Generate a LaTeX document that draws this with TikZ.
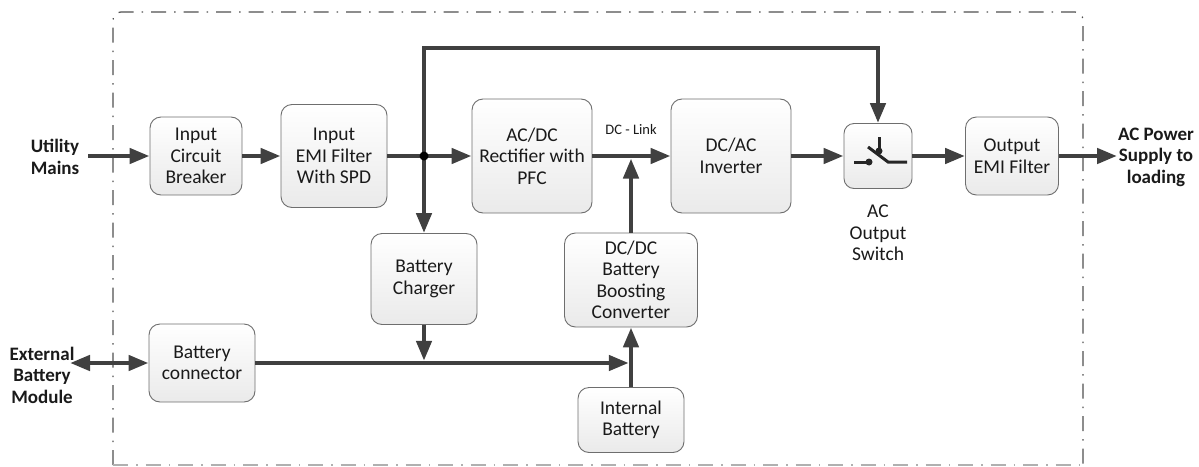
\documentclass[tikz,border=0pt]{standalone}
\usepackage{fontspec}
\setmainfont{Carlito}
\usetikzlibrary{arrows.meta}
\definecolor{ln}{HTML}{404040}
\definecolor{bd}{HTML}{6E6E6E}
\definecolor{bfill}{HTML}{EAEAEA}
\definecolor{fr}{HTML}{505050}
\definecolor{tx}{HTML}{1A1A1A}
\tikzset{
  blk/.style={draw=bd, line width=0.9pt, rounded corners=11pt, top color=white, bottom color=bfill,
    align=center, inner sep=1pt, text=tx, font=\fontsize{19.5}{21.5}\selectfont},
  lbl/.style={align=center, text=tx, font=\fontsize{19}{21.5}\selectfont\bfseries},
  conn/.style={draw=ln, line width=4.5pt, line join=miter, -{Triangle[length=20pt,width=15pt]}},
  conn2/.style={draw=ln, line width=4.5pt, {Triangle[length=20pt,width=15pt]}-{Triangle[length=20pt,width=15pt]}},
  frame/.style={draw=fr, line width=1.2pt, dash pattern=on 15pt off 8pt on 1.5pt off 8pt},
  swl/.style={draw=black!85, line width=3pt},
}
\begin{document}
\begin{tikzpicture}[x=1pt,y=-1pt]
\useasboundingbox (0,0) rectangle (1199,466);
% frame
\draw[frame, rounded corners=8pt] (113,465) -- (113,12) -- (1083,12) -- (1083,465);
\draw[frame, draw=fr!45] (113,465) -- (1083,465);
% blocks
\node[blk, minimum width=92pt, minimum height=78pt] (cb) at (196,156) {Input\\Circuit\\Breaker};
\node[blk, minimum width=106pt, minimum height=103pt] (emi) at (334,156) {Input\\EMI Filter\\With SPD};
\node[blk, minimum width=120pt, minimum height=114pt] (rect) at (532,156) {AC/DC\\Rectifier with\\PFC};
\node[blk, minimum width=120pt, minimum height=114pt] (inv) at (731,156) {DC/AC\\Inverter};
\node[blk, minimum width=68pt, minimum height=65pt, rounded corners=10pt] (sw) at (878,156) {};
\node[blk, minimum width=93pt, minimum height=78pt] (out) at (1012,156) {Output\\EMI Filter};
\node[blk, minimum width=106pt, minimum height=91pt] (chg) at (424,279) {Battery\\Charger};
\node[blk, minimum width=106pt, minimum height=78pt] (bcon) at (202,363) {Battery\\connector};
\node[blk, minimum width=133pt, minimum height=94pt] (boost) at (631,280) {DC/DC\\Battery\\Boosting\\Converter};
\node[blk, minimum width=106pt, minimum height=65pt] (ib) at (631,420) {Internal\\Battery};
% labels
\node[lbl] (um) at (55,157) {Utility\\Mains};
\node[lbl] (ebm) at (42,375) {External\\Battery\\Module};
\node[lbl] (acp) at (1156,157) {AC Power\\Supply to\\loading};
\node[text=tx, font=\fontsize{14.5}{16}\selectfont] (dcl) at (631,130) {DC - Link};
\node[align=center, text=tx, font=\fontsize{19.5}{21.5}\selectfont] (swlab) at (878,233) {AC\\Output\\Switch};
% coordinates
\coordinate (umS) at (88,156);
\coordinate (j) at (424,156);
\coordinate (tl) at (424,48);
\coordinate (dcb) at (631,158.5);
\coordinate (acS) at (1117,156);
\coordinate (ebS) at (70,363);
\coordinate (bus) at (628.8,363);
\coordinate (cj) at (424,360.8);
% connectors
\draw[conn] (umS) -- (cb.west);
\draw[conn] (cb) -- (emi);
\draw[conn] (emi) -- (rect);
\draw[conn] (j) -- (chg);
\draw[conn] (j) -- (tl) -| (sw.north);
\draw[conn] (rect) -- (inv);
\draw[conn] (boost) -- (dcb);
\draw[conn] (inv) -- (sw);
\draw[conn] (sw) -- (out);
\draw[conn] (out) -- (acS);
\draw[conn2] (ebS) -- (bcon.west);
\draw[conn] (bcon.east) -- (bus);
\draw[conn] (chg) -- (cj);
\draw[conn] (ib) -- (boost);
\fill[black] (j) circle (4.5pt);
% switch symbol
\draw[swl] (854,162) -- (869,162);
\fill[black!85] (869,162) circle (3.5pt);
\draw[swl] (868,147) -- (888,162) -- (907,162);
\draw[swl] (879,137) -- (879,151);
\fill[black!85] (879,151) circle (3.5pt);
\end{tikzpicture}
\end{document}
